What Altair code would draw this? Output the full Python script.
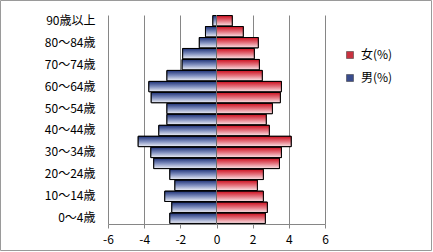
import altair as alt
import pandas as pd

ages = ["0～4歳", "5～9歳", "10～14歳", "15～19歳", "20～24歳", "25～29歳",
        "30～34歳", "35～39歳", "40～44歳", "45～49歳", "50～54歳", "55～59歳",
        "60～64歳", "65～69歳", "70～74歳", "75～79歳", "80～84歳", "85～89歳",
        "90歳以上"]
male = [2.58, 2.47, 2.86, 2.30, 2.58, 3.47, 3.63, 4.33, 3.19, 2.74, 2.74,
        3.61, 3.74, 2.74, 1.90, 1.87, 0.95, 0.61, 0.20]
female = [2.70, 2.81, 2.59, 2.26, 2.59, 3.48, 3.59, 4.13, 2.92, 2.75, 3.09,
          3.53, 3.59, 2.53, 2.37, 2.09, 2.31, 1.48, 0.87]
series = ["女(%)", "男(%)"]
x_ticks = [-6, -4, -2, 0, 2, 4, 6]

rows = []
for a, m, f in zip(ages, male, female):
    rows.append({"age": a, "sex": series[1], "v": -m})
    rows.append({"age": a, "sex": series[0], "v": f})
df = pd.DataFrame(rows)

order = ages[::-1]
label_vals = order[::2]
FONT = "Noto Sans CJK JP"

W, H = 217, 209

y_enc = alt.Y("age:N", sort=order,
              scale=alt.Scale(domain=order, paddingInner=0.06, paddingOuter=0.05),
              axis=alt.Axis(title=None, values=label_vals, ticks=False, domain=False,
                            labelFontSize=12, labelFont=FONT, labelColor="#000",
                            labelPadding=13, grid=False))


def x_enc(field):
    return alt.X(field, scale=alt.Scale(domain=[-6, 6], nice=False),
                 axis=alt.Axis(title=None, values=x_ticks, labelExpr="'' + datum.value",
                               labelFontSize=12, labelFont=FONT, labelColor="#000",
                               labelOverlap=False, labelFlush=False,
                               tickColor="#868686", tickSize=4, domainColor="#868686",
                               gridColor="#868686", grid=True, gridOpacity=1,
                               labelPadding=6))


base = alt.Chart(df)

solid = base.mark_bar(stroke="#000", strokeWidth=1).encode(
    x=x_enc("v:Q"), y=y_enc,
    color=alt.Color("sex:N", scale=alt.Scale(domain=series, range=["#C8323F", "#3A4C8C"]),
                    legend=alt.Legend(title=None, orient="none", legendX=236, legendY=34,
                                      symbolType="square", symbolSize=49,
                                      symbolStrokeColor="#333", symbolStrokeWidth=0.5,
                                      labelFontSize=12, labelFont=FONT, labelColor="#000",
                                      rowPadding=11, labelOffset=5))
)

grad_m = alt.LinearGradient(gradient="linear", x1=0, y1=0, x2=0, y2=1,
                            stops=[alt.GradientStop(color="#1E3176", offset=0),
                                   alt.GradientStop(color="#7F8EBE", offset=0.5),
                                   alt.GradientStop(color="#EEF0F7", offset=1)])
grad_f = alt.LinearGradient(gradient="linear", x1=0, y1=0, x2=0, y2=1,
                            stops=[alt.GradientStop(color="#CC0E1E", offset=0),
                                   alt.GradientStop(color="#E4737E", offset=0.5),
                                   alt.GradientStop(color="#FBE4E7", offset=1)])

bars_m = base.transform_filter(alt.datum.sex == series[1]).mark_bar(
    color=grad_m, stroke="#000", strokeWidth=1).encode(x=x_enc("v:Q"), y=y_enc)
bars_f = base.transform_filter(alt.datum.sex == series[0]).mark_bar(
    color=grad_f, stroke="#000", strokeWidth=1).encode(x=x_enc("v:Q"), y=y_enc)

zero = alt.Chart(pd.DataFrame({"v": [0]})).mark_rule(color="#6A6A6A", strokeWidth=1).encode(
    x=x_enc("v:Q"))

frame = alt.Chart(pd.DataFrame({"a": [0]})).mark_rect(
    fill=None, stroke="#9A9A9A", strokeWidth=1).encode(
    x=alt.value(-107.5), x2=alt.value(W + 106.5),
    y=alt.value(-14.5), y2=alt.value(H + 26.5))

chart = alt.layer(solid, bars_m, bars_f, zero, frame).properties(
    width=W, height=H,
    autosize=alt.AutoSizeParams(type="none"),
    padding={"left": 108, "top": 15, "right": 108, "bottom": 28},
    background="#FFFFFF",
).configure_view(stroke=None).configure_axisX(grid=True, gridColor="#868686")

chart.save("out.html", embed_options={"renderer": "svg", "actions": False})
